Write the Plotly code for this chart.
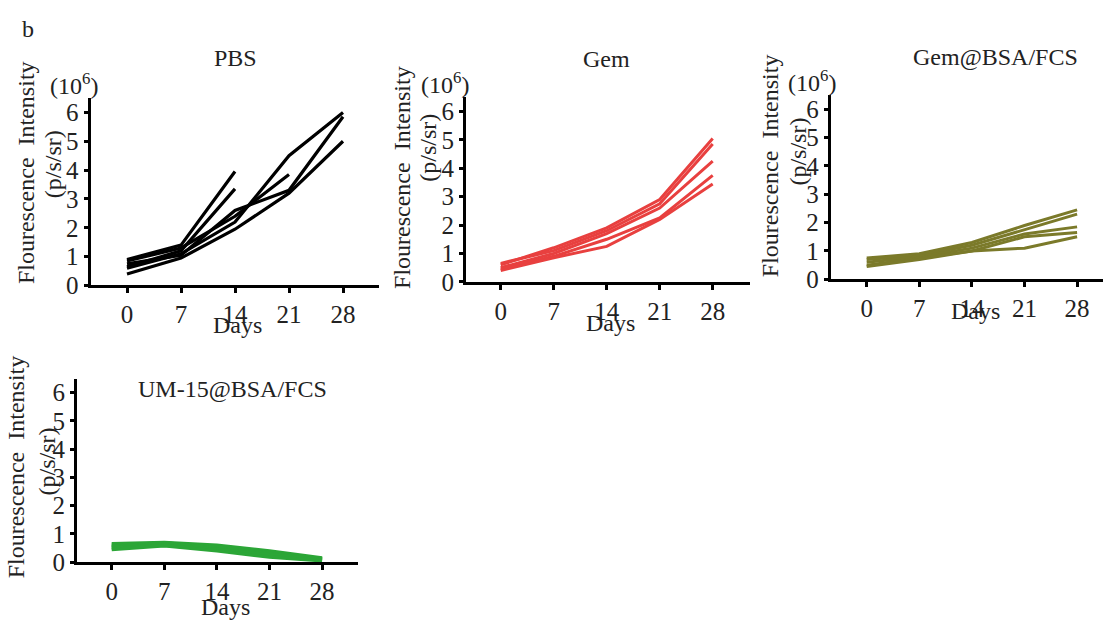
import plotly.graph_objects as go

W, H = 1103, 628

days = [0, 7, 14, 21, 28]
x_ticks = [0, 7, 14, 21, 28]
y_ticks = [0, 1, 2, 3, 4, 5, 6]

pbs_series = [
    [0.9, 1.4, 3.95],
    [0.65, 1.2, 3.35],
    [0.6, 1.1, 2.2, 4.5, 6.0],
    [0.75, 1.05, 2.6, 3.3, 5.85],
    [0.4, 0.95, 1.95, 3.2, 5.0],
    [0.85, 1.3, 2.4, 3.85],
]
gem_series = [
    [0.6, 1.2, 1.9, 2.9, 5.05],
    [0.65, 1.1, 1.8, 2.75, 4.85],
    [0.5, 1.0, 1.7, 2.6, 4.25],
    [0.45, 0.9, 1.5, 2.25, 3.75],
    [0.4, 0.85, 1.25, 2.2, 3.45],
]
gembsa_series = [
    [0.75, 0.9, 1.3, 1.9, 2.45],
    [0.7, 0.85, 1.2, 1.75, 2.3],
    [0.6, 0.8, 1.1, 1.6, 1.85],
    [0.5, 0.75, 1.0, 1.5, 1.65],
    [0.45, 0.7, 1.0, 1.1, 1.5],
]
um_series = [
    [0.65, 0.7, 0.6, 0.4, 0.15],
    [0.6, 0.68, 0.55, 0.35, 0.12],
    [0.55, 0.65, 0.5, 0.3, 0.1],
    [0.5, 0.6, 0.45, 0.25, 0.08],
    [0.45, 0.58, 0.4, 0.18, 0.05],
]

titles = ["PBS", "Gem", "Gem@BSA/FCS", "UM-15@BSA/FCS"]
colors = ["#000000", "#e8403f", "#7b7a2a", "#2ca637"]
all_series = [pbs_series, gem_series, gembsa_series, um_series]
line_widths = [3.2, 3, 3, 3.5]

# geometry in pixels: x_left, x_right, day0_px, px_per_day, y0_px, unit_px
geom = [
    (90.5, 379, 127, 54 / 7, 292, 29.5),
    (466, 750, 500.7, 53 / 7, 288.3, 29.05),
    (830.7, 1103, 866.7, 52.6 / 7, 285.7, 29.0),
    (77, 358, 111.7, 52.6 / 7, 575, 28.9),
]
YMAX = 6.5

FONT = "Liberation Serif"
FS = 24
TFS = 25

fig = go.Figure()
layout = {}
for i, (series, col, lw, g) in enumerate(zip(all_series, colors, line_widths, geom)):
    xl, xr, d0, ppd, y0, unit = g
    xa = "x" if i == 0 else f"x{i+1}"
    ya = "y" if i == 0 else f"y{i+1}"
    for s in series:
        fig.add_trace(go.Scatter(x=days[:len(s)], y=s, mode="lines",
                                 line=dict(color=col, width=lw),
                                 xaxis=xa, yaxis=ya, showlegend=False,
                                 hoverinfo="skip"))
    xkey = "xaxis" if i == 0 else f"xaxis{i+1}"
    ykey = "yaxis" if i == 0 else f"yaxis{i+1}"
    layout[xkey] = dict(
        domain=[xl / W, xr / W],
        range=[(xl - d0) / ppd, (xr - d0) / ppd],
        anchor=ya, tickvals=x_ticks, ticktext=[str(v) for v in x_ticks],
        showline=True, linewidth=3, linecolor="black",
        ticks="outside", ticklen=5, tickwidth=2.5, tickcolor="black",
        showgrid=False, zeroline=False,
        tickfont=dict(family=FONT, size=TFS, color="#222"),
    )
    layout[ykey] = dict(
        domain=[1 - y0 / H, 1 - (y0 - YMAX * unit) / H],
        range=[0, YMAX], anchor=xa, tickvals=y_ticks,
        showline=True, linewidth=3, linecolor="black",
        ticks="outside", ticklen=4, tickwidth=2.5, tickcolor="black",
        showgrid=False, zeroline=False,
        tickfont=dict(family=FONT, size=TFS, color="#222"),
    )

def ann(text, x, y, angle=0, size=FS):
    return dict(text=text, x=x / W, y=1 - y / H, xref="paper", yref="paper",
                showarrow=False, textangle=angle, xanchor="center", yanchor="middle",
                font=dict(family=FONT, size=size, color="#222"))

annotations = [ann("b", 28, 30)]
title_pos = [(235, 59), (607, 60), (995, 58), (232, 398)]
for t, (x, y) in zip(titles, title_pos):
    annotations.append(ann(t, x, y))
days_pos = [(237, 332), (610, 330), (975, 318), (225, 621)]
for (x, y) in days_pos:
    annotations.append(ann("Days", x, y))
exp_pos = [(74, 86), (445, 85), (812, 83)]
for (x, y) in exp_pos:
    annotations.append(ann("(10<sup>6</sup>)", x, y))
ytitle1 = "Flourescence\u00a0 Intensity"
ytitle2 = "(p/s/sr)"
yt1_pos = [(26, 177), (402, 182), (770, 170), (16, 478)]
yt2_pos = [(53, 168), (428, 151), (798, 155), (47, 472)]
for (x, y) in yt1_pos:
    annotations.append(ann(ytitle1, x, y, angle=-90))
for (x, y) in yt2_pos:
    annotations.append(ann(ytitle2, x, y, angle=-90))

fig.update_layout(
    width=W, height=H, margin=dict(l=0, r=0, t=0, b=0),
    paper_bgcolor="white", plot_bgcolor="white",
    annotations=annotations, **layout,
)
fig.write_html("out.html")
